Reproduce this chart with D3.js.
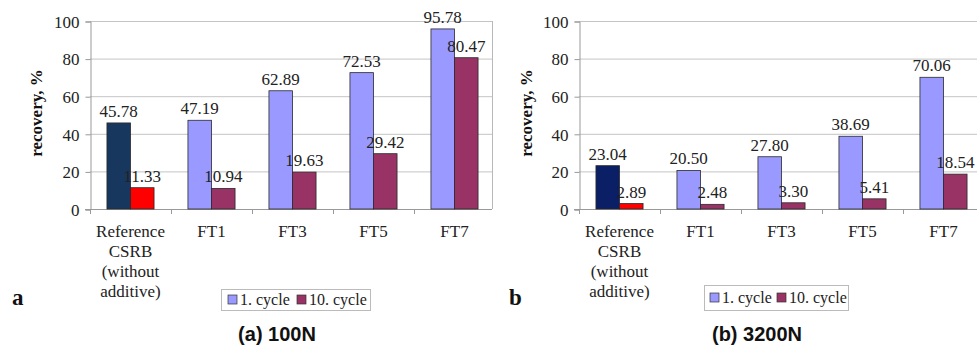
<!DOCTYPE html>
<html>
<head>
<meta charset="utf-8">
<script src="https://cdn.jsdelivr.net/npm/d3@7"></script>
<style>
  html, body { margin: 0; padding: 0; background: #fff; }
  svg { display: block; }
</style>
</head>
<body>
<svg id="chart" width="977" height="345"></svg>
<script>
// Categories and series
const categories = ["Reference", "FT1", "FT3", "FT5", "FT7"];
const categoryLines = [["Reference", "CSRB", "(without", "additive)"], ["FT1"], ["FT3"], ["FT5"], ["FT7"]];
const seriesNames = ["1. cycle", "10. cycle"];
const cycle1_100N = [45.78, 47.19, 62.89, 72.53, 95.78];
const cycle10_100N = [11.33, 10.94, 19.63, 29.42, 80.47];
const cycle1_3200N = [23.04, 20.50, 27.80, 38.69, 70.06];
const cycle10_3200N = [2.89, 2.48, 3.30, 5.41, 18.54];
const yTicks = [0, 20, 40, 60, 80, 100];
const panelTitles = ["(a) 100N", "(b) 3200N"];
const panelLetters = ["a", "b"];

const colors = {
  c1: "#9999ff",
  c10: "#993366",
  ref1: ["#17375e", "#0a1f66"],
  ref10: "#ff0000"
};

const svg = d3.select("#chart");
const serif = "'Liberation Serif', 'Times New Roman', serif";

function drawPanel(opt) {
  const g = svg.append("g");
  const x = d3.scaleBand().domain(categories).range([opt.x0, opt.x0 + 405]).paddingInner(0).paddingOuter(0);
  const xs = d3.scaleBand().domain(seriesNames).range([0, x.bandwidth()]).paddingInner(0).paddingOuter(0.72);
  const y = d3.scaleLinear().domain([0, 100]).range([209, 21]);

  // grid lines
  g.append("g").selectAll("line").data(yTicks.filter(d => d > 0)).join("line")
    .attr("x1", opt.x0).attr("x2", opt.gridRight)
    .attr("y1", d => y(d) + 0.5).attr("y2", d => y(d) + 0.5)
    .attr("stroke", "#c4c4c4").attr("stroke-width", 1);

  if (opt.border) {
    g.append("line").attr("x1", opt.gridRight + 0.5).attr("x2", opt.gridRight + 0.5)
      .attr("y1", y(100)).attr("y2", y(0)).attr("stroke", "#b8b8b8");
  }

  // y axis
  const yAxis = d3.axisLeft(y).tickValues(yTicks).tickSize(5).tickPadding(6);
  const ya = g.append("g").attr("transform", `translate(${opt.x0 + 0.5},0.5)`).call(yAxis);
  ya.select(".domain").attr("stroke", "#999");
  ya.selectAll(".tick line").attr("stroke", "#999");
  ya.selectAll(".tick text").attr("font-family", serif).attr("font-size", 17).attr("fill", "#222").attr("dy", "0.34em");

  // x axis with ticks at category boundaries
  g.append("line").attr("x1", opt.x0 - 5).attr("x2", opt.gridRight)
    .attr("y1", y(0) + 0.5).attr("y2", y(0) + 0.5).attr("stroke", "#999");
  g.append("g").selectAll("line").data(categories).join("line")
    .attr("x1", d => x(d) + 0.5).attr("x2", d => x(d) + 0.5)
    .attr("y1", y(0)).attr("y2", y(0) + 5).attr("stroke", "#999");

  // bars
  const rows = categories.map((c, i) => ({ c, i, v: [opt.s1[i], opt.s10[i]] }));
  const grp = g.append("g").selectAll("g").data(rows).join("g")
    .attr("transform", d => `translate(${x(d.c)},0)`);
  grp.selectAll("rect").data(d => d.v.map((v, k) => ({ v, k, i: d.i }))).join("rect")
    .attr("x", d => xs(seriesNames[d.k]))
    .attr("width", xs.bandwidth())
    .attr("y", d => y(d.v))
    .attr("height", d => y(0) - y(d.v))
    .attr("fill", d => d.i === 0 ? (d.k === 0 ? opt.refColor : colors.ref10) : (d.k === 0 ? colors.c1 : colors.c10))
    .attr("stroke", "#2a2a2a").attr("stroke-width", 0.8);
  grp.selectAll("text").data(d => d.v.map((v, k) => ({ v, k }))).join("text")
    .attr("x", d => xs(seriesNames[d.k]) + xs.bandwidth() / 2)
    .attr("y", d => y(d.v) - 6)
    .attr("text-anchor", "middle")
    .attr("font-family", serif).attr("font-size", 17).attr("fill", "#222")
    .text(d => d.v.toFixed(2));

  // category labels
  const cl = g.append("g").selectAll("text").data(categories).join("text")
    .attr("x", d => x(d) + x.bandwidth() / 2)
    .attr("y", 237)
    .attr("text-anchor", "middle")
    .attr("font-family", serif).attr("font-size", 17).attr("fill", "#222");
  cl.selectAll("tspan").data((d, i) => categoryLines[i]).join("tspan")
    .attr("x", function () { return d3.select(this.parentNode).attr("x"); })
    .attr("dy", (d, j) => j === 0 ? 0 : 20)
    .text(d => d);

  // y axis title
  g.append("text")
    .attr("transform", `translate(${opt.titleX},${113}) rotate(-90)`)
    .attr("text-anchor", "middle")
    .attr("font-family", serif).attr("font-size", 17).attr("font-weight", "bold").attr("fill", "#111")
    .text("recovery, %");

  // panel letter
  g.append("text").attr("x", opt.letterX).attr("y", 305)
    .attr("font-family", serif).attr("font-size", 23).attr("font-weight", "bold").attr("fill", "#111")
    .text(opt.letter);

  // legend
  const lg = g.append("g").attr("transform", `translate(${opt.legX},${opt.legY})`);
  lg.append("rect").attr("x", 0.5).attr("y", 0.5).attr("width", opt.legW).attr("height", opt.legH)
    .attr("fill", "#fff").attr("stroke", "#bbb");
  const items = [{ n: seriesNames[0], c: colors.c1, dx: opt.legDx[0] }, { n: seriesNames[1], c: colors.c10, dx: opt.legDx[1] }];
  items.forEach(it => {
    lg.append("rect").attr("x", it.dx).attr("y", opt.legH / 2 - 4.5).attr("width", 9).attr("height", 9)
      .attr("fill", it.c).attr("stroke", "#333").attr("stroke-width", 0.7);
    lg.append("text").attr("x", it.dx + 12).attr("y", opt.legH / 2 + 5.5)
      .attr("font-family", serif).attr("font-size", 16).attr("fill", "#222").text(it.n);
  });

  // panel title
  g.append("text").attr("x", opt.captionX).attr("y", 341).attr("text-anchor", "middle")
    .attr("font-family", "'Liberation Sans', Arial, sans-serif").attr("font-size", 20).attr("font-weight", "bold")
    .attr("fill", "#111").text(opt.caption);
}

drawPanel({ x0: 90, gridRight: 492, border: true, s1: cycle1_100N, s10: cycle10_100N, refColor: colors.ref1[0],
  titleX: 42, letterX: 12, letter: panelLetters[0], legX: 221, legY: 289, legW: 149, legH: 21, legDx: [7, 76],
  captionX: 277, caption: panelTitles[0] });
drawPanel({ x0: 579, gridRight: 977, border: false, s1: cycle1_3200N, s10: cycle10_3200N, refColor: colors.ref1[1],
  titleX: 532, letterX: 509, letter: panelLetters[1], legX: 704, legY: 285, legW: 144, legH: 25, legDx: [6, 73],
  captionX: 757, caption: panelTitles[1] });
</script>
</body>
</html>
